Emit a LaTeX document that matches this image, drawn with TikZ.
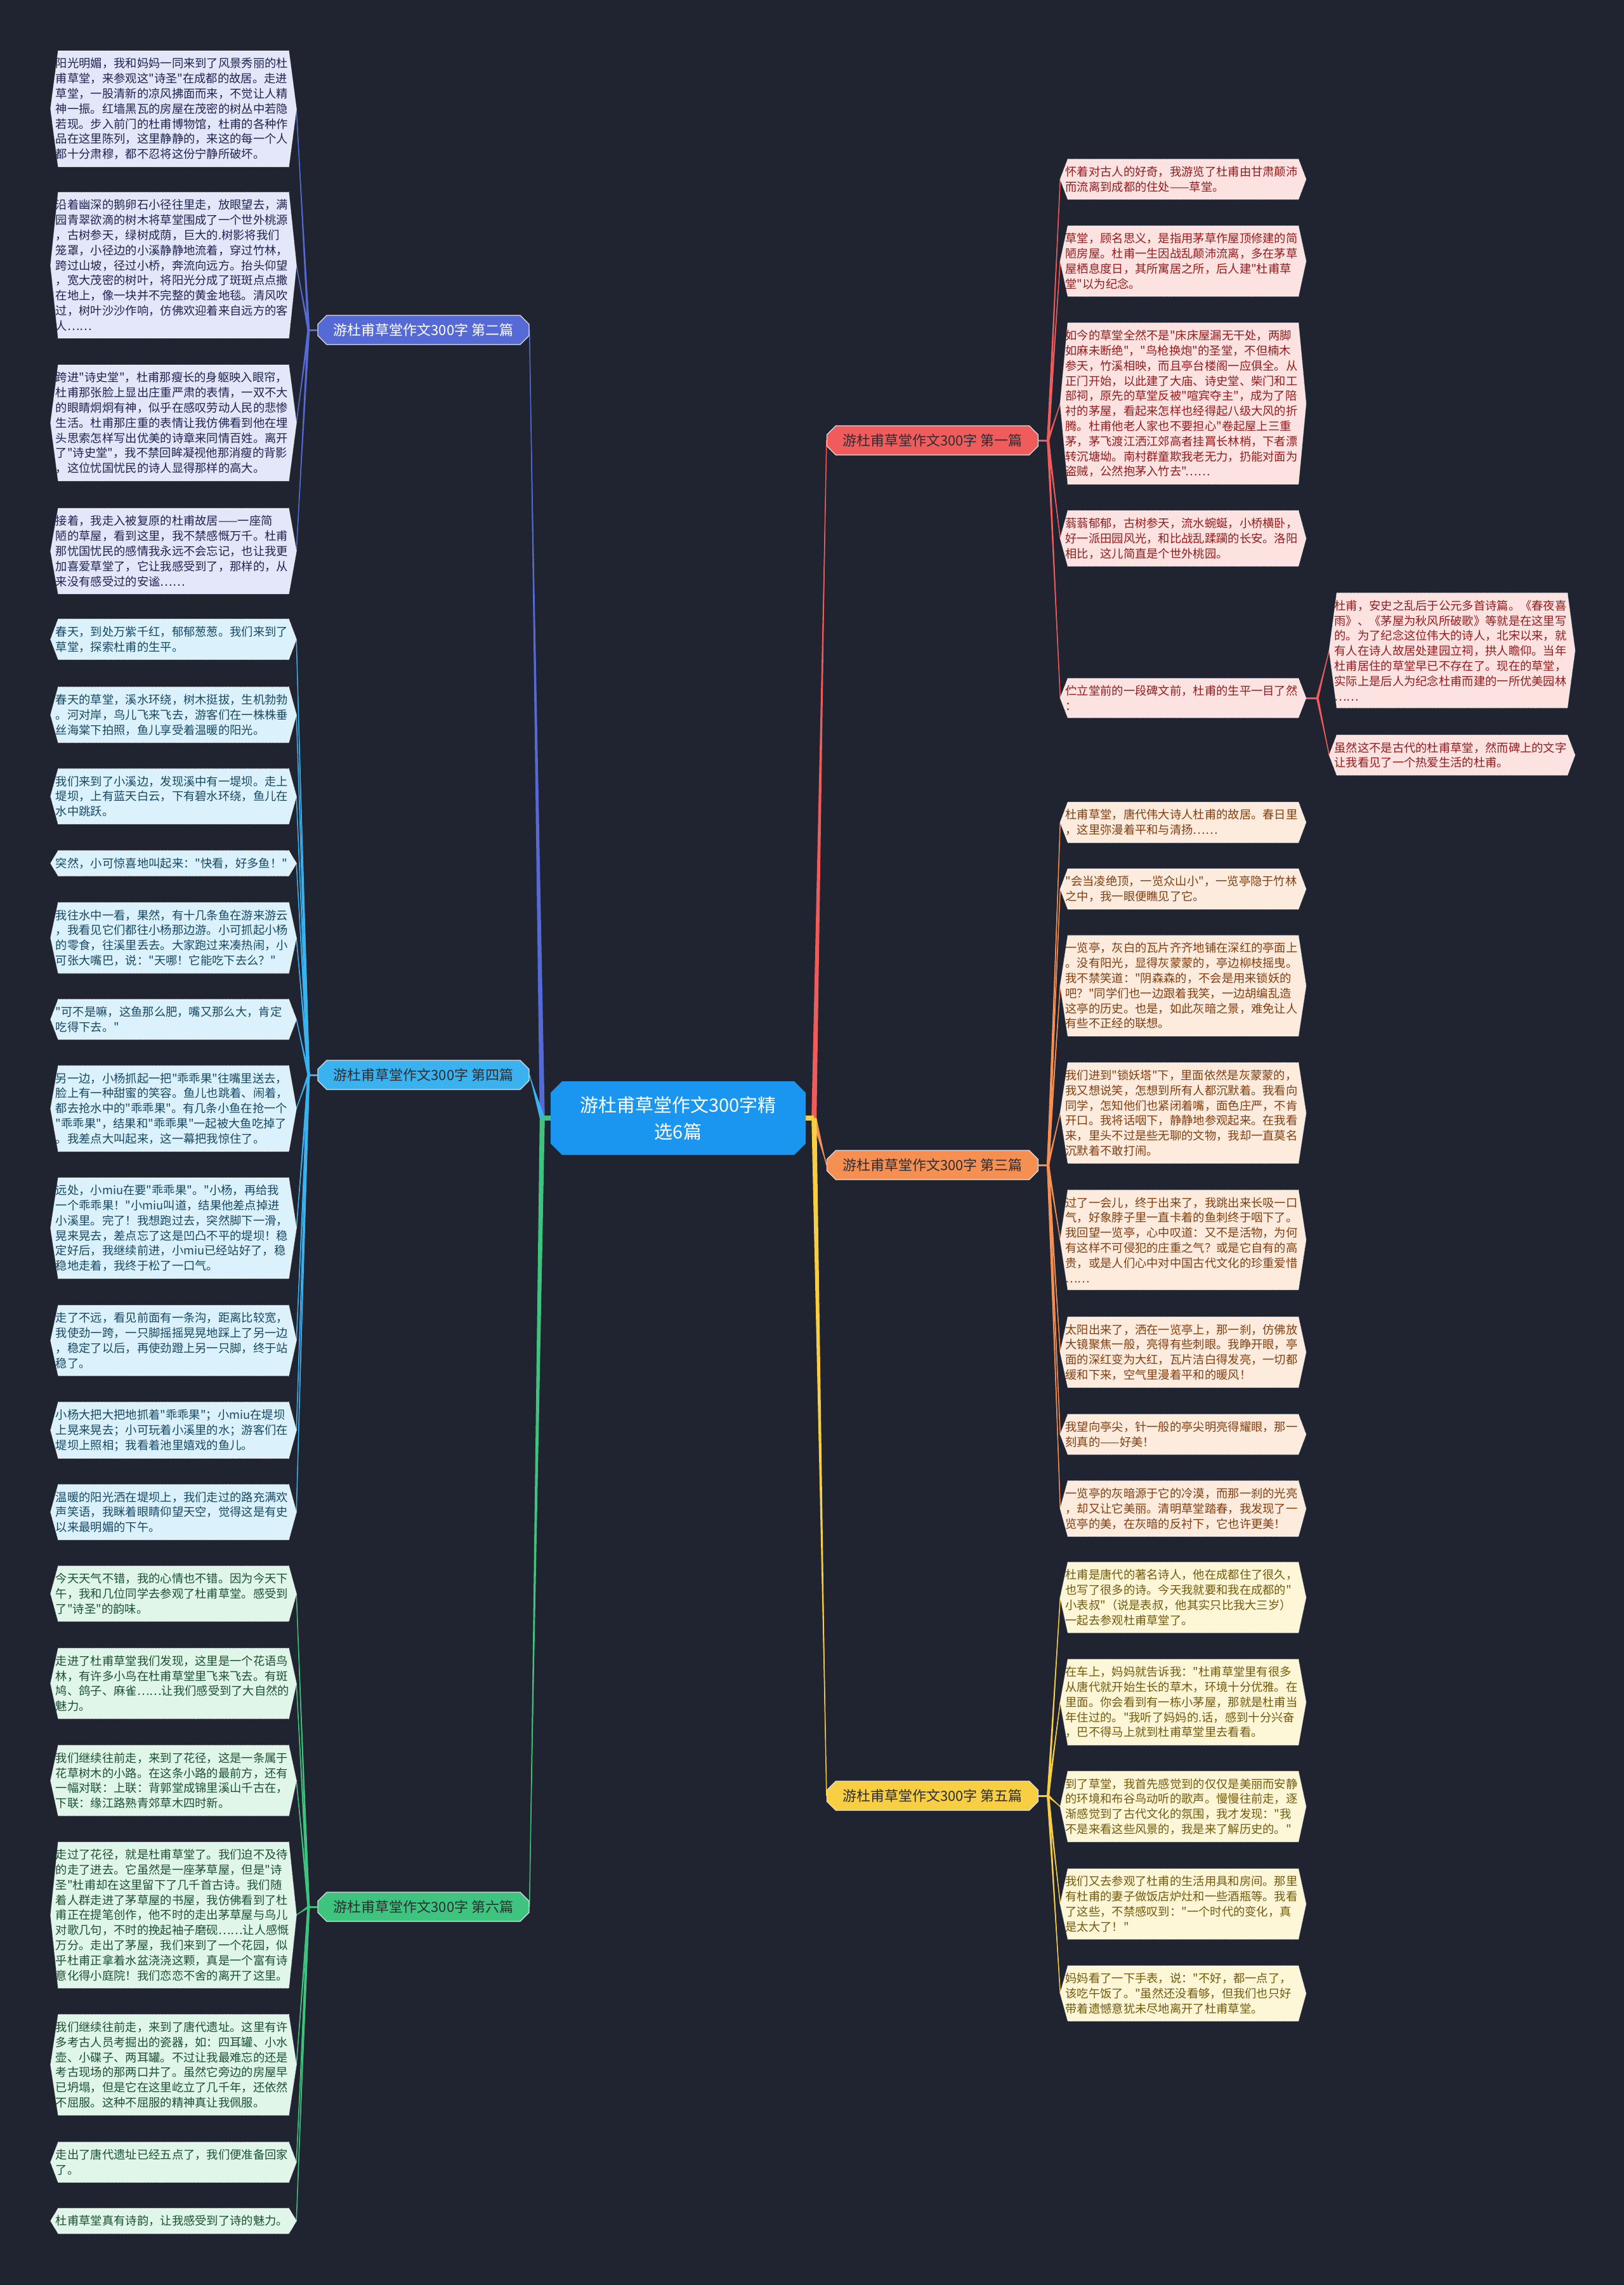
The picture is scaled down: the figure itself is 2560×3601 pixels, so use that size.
\documentclass[tikz,border=0pt]{standalone}
\usepackage{fontspec}
\setmainfont{Noto Sans CJK SC}[Ligatures=TeXOff]
\usetikzlibrary{calc,shapes.misc}
\pgfdeclarelayer{bg}\pgfdeclarelayer{mid}\pgfsetlayers{bg,mid,main}
\definecolor{bgc}{RGB}{32,36,48}
\definecolor{cC}{RGB}{26,150,240}
\definecolor{cB}{RGB}{86,106,214}\definecolor{cBf}{RGB}{228,231,250}\definecolor{cBt}{RGB}{30,36,80}
\definecolor{cL}{RGB}{58,178,240}\definecolor{cLf}{RGB}{219,242,253}\definecolor{cLt}{RGB}{22,72,100}
\definecolor{cG}{RGB}{62,196,126}\definecolor{cGf}{RGB}{223,246,233}\definecolor{cGt}{RGB}{28,80,52}
\definecolor{cR}{RGB}{240,92,92}\definecolor{cRf}{RGB}{253,226,226}\definecolor{cRt}{RGB}{150,28,28}
\definecolor{cO}{RGB}{246,144,82}\definecolor{cOf}{RGB}{253,236,222}\definecolor{cOt}{RGB}{130,62,16}
\definecolor{cY}{RGB}{248,206,66}\definecolor{cYf}{RGB}{253,247,216}\definecolor{cYt}{RGB}{115,90,12}
\definecolor{cDk}{RGB}{45,45,52}
\newcommand\hexbox[2]{%
  \filldraw[fill=#2, draw=white, densely dotted, line width=1.2bp]
  ($(#1.north west)+(12bp,0)$) -- ($(#1.north east)+(-12bp,0)$) -- (#1.east) --
  ($(#1.south east)+(-12bp,0)$) -- ($(#1.south west)+(12bp,0)$) -- (#1.west) -- cycle;}
\newcommand\taper[4]{%
  \fill[#1] ($(#2)!#4!90:(#3)$) -- (#3) -- ($(#2)!#4!-90:(#3)$) -- cycle;
  \draw[#1, line width=1.5bp] (#2) -- (#3);}
\begin{document}
\begin{tikzpicture}[x=1bp,y=-1bp,
  leaf/.style={text width=371bp, inner xsep=8bp, inner ysep=11bp, align=left,
    font=\fontsize{18.3bp}{23.8bp}\selectfont, anchor=center},
  branch/.style={chamfered rectangle, chamfered rectangle xsep=7bp, chamfered rectangle ysep=7bp,
    minimum width=333bp, minimum height=46bp, inner sep=0pt,
    font=\fontsize{22bp}{26bp}\selectfont, draw=white!88!black, line width=1.2bp, text=cDk},
  root/.style={chamfered rectangle, chamfered rectangle xsep=9bp, chamfered rectangle ysep=9bp,
    minimum width=402bp, minimum height=116bp, inner sep=0pt, fill=cC, text=white, align=center,
    font=\fontsize{29bp}{42bp}\selectfont}]
\useasboundingbox (0,0) rectangle (2560,3601);

% root
\node[root] (c) at (1069,1762) {游杜甫草堂作文300字精\\选6篇};

% branches
\node[branch, fill=cB, text=white] (b2) at (667.5,520) {游杜甫草堂作文300字 第二篇};
\node[branch, fill=cL] (b4) at (667.5,1694) {游杜甫草堂作文300字 第四篇};
\node[branch, fill=cG] (b6) at (667.5,3005) {游杜甫草堂作文300字 第六篇};
\node[branch, fill=cR] (b1) at (1470,694) {游杜甫草堂作文300字 第一篇};
\node[branch, fill=cO] (b3) at (1470,1836) {游杜甫草堂作文300字 第三篇};
\node[branch, fill=cY] (b5) at (1470,2830) {游杜甫草堂作文300字 第五篇};

% 第二篇 leaves
\node[leaf, text=cBt] (l2a) at (273.5,171.5) {阳光明媚，我和妈妈一同来到了风景秀丽的杜\\甫草堂，来参观这"诗圣"在成都的故居。走进\\草堂，一股清新的凉风拂面而来，不觉让人精\\神一振。红墙黑瓦的房屋在茂密的树丛中若隐\\若现。步入前门的杜甫博物馆，杜甫的各种作\\品在这里陈列，这里静静的，来这的每一个人\\都十分肃穆，都不忍将这份宁静所破坏。};
\node[leaf, text=cBt] (l2b) at (273.5,418) {沿着幽深的鹅卵石小径往里走，放眼望去，满\\园青翠欲滴的树木将草堂围成了一个世外桃源\\，古树参天，绿树成荫，巨大的.树影将我们\\笼罩，小径边的小溪静静地流着，穿过竹林，\\跨过山坡，径过小桥，奔流向远方。抬头仰望\\，宽大茂密的树叶，将阳光分成了斑斑点点撒\\在地上，像一块并不完整的黄金地毯。清风吹\\过，树叶沙沙作响，仿佛欢迎着来自远方的客\\人……};
\node[leaf, text=cBt] (l2c) at (273.5,666.5) {跨进"诗史堂"，杜甫那瘦长的身躯映入眼帘，\\杜甫那张脸上显出庄重严肃的表情，一双不大\\的眼睛炯炯有神，似乎在感叹劳动人民的悲惨\\生活。杜甫那庄重的表情让我仿佛看到他在埋\\头思索怎样写出优美的诗章来同情百姓。离开\\了"诗史堂"，我不禁回眸凝视他那消瘦的背影\\，这位忧国忧民的诗人显得那样的高大。};
\node[leaf, text=cBt] (l2d) at (273.5,868.5) {接着，我走入被复原的杜甫故居——一座简\\陋的草屋，看到这里，我不禁感慨万千。杜甫\\那忧国忧民的感情我永远不会忘记，也让我更\\加喜爱草堂了，它让我感受到了，那样的，从\\来没有感受过的安谧……};

% 第四篇 leaves
\node[leaf, text=cLt] (l4a) at (273.5,1007.5) {春天，到处万紫千红，郁郁葱葱。我们来到了\\草堂，探索杜甫的生平。};
\node[leaf, text=cLt] (l4b) at (273.5,1126.5) {春天的草堂，溪水环绕，树木挺拔，生机勃勃\\。河对岸，鸟儿飞来飞去，游客们在一株株垂\\丝海棠下拍照，鱼儿享受着温暖的阳光。};
\node[leaf, text=cLt] (l4c) at (273.5,1255) {我们来到了小溪边，发现溪中有一堤坝。走上\\堤坝，上有蓝天白云，下有碧水环绕，鱼儿在\\水中跳跃。};
\node[leaf, text=cLt] (l4d) at (273.5,1360.5) {突然，小可惊喜地叫起来："快看，好多鱼！"};
\node[leaf, text=cLt] (l4e) at (273.5,1478) {我往水中一看，果然，有十几条鱼在游来游云\\，我看见它们都往小杨那边游。小可抓起小杨\\的零食，往溪里丢去。大家跑过来凑热闹，小\\可张大嘴巴，说："天哪！它能吃下去么？"};
\node[leaf, text=cLt] (l4f) at (273.5,1606.5) {"可不是嘛，这鱼那么肥，嘴又那么大，肯定\\吃得下去。"};
\node[leaf, text=cLt] (l4g) at (273.5,1747) {另一边，小杨抓起一把"乖乖果"往嘴里送去，\\脸上有一种甜蜜的笑容。鱼儿也跳着、闹着，\\都去抢水中的"乖乖果"。有几条小鱼在抢一个\\"乖乖果"，结果和"乖乖果"一起被大鱼吃掉了\\。我差点大叫起来，这一幕把我惊住了。};
\node[leaf, text=cLt] (l4h) at (273.5,1935.5) {远处，小miu在要"乖乖果"。"小杨，再给我\\一个乖乖果！"小miu叫道，结果他差点掉进\\小溪里。完了！我想跑过去，突然脚下一滑，\\晃来晃去，差点忘了这是凹凸不平的堤坝！稳\\定好后，我继续前进，小miu已经站好了，稳\\稳地走着，我终于松了一口气。};
\node[leaf, text=cLt] (l4i) at (273.5,2112.5) {走了不远，看见前面有一条沟，距离比较宽，\\我使劲一跨，一只脚摇摇晃晃地踩上了另一边\\，稳定了以后，再使劲蹬上另一只脚，终于站\\稳了。};
\node[leaf, text=cLt] (l4j) at (273.5,2254) {小杨大把大把地抓着"乖乖果"；小miu在堤坝\\上晃来晃去；小可玩着小溪里的水；游客们在\\堤坝上照相；我看着池里嬉戏的鱼儿。};
\node[leaf, text=cLt] (l4k) at (273.5,2383) {温暖的阳光洒在堤坝上，我们走过的路充满欢\\声笑语，我眯着眼睛仰望天空，觉得这是有史\\以来最明媚的下午。};

% 第六篇 leaves
\node[leaf, text=cGt] (l6a) at (273.5,2511.5) {今天天气不错，我的心情也不错。因为今天下\\午，我和几位同学去参观了杜甫草堂。感受到\\了"诗圣"的韵味。};
\node[leaf, text=cGt] (l6b) at (273.5,2653) {走进了杜甫草堂我们发现，这里是一个花语鸟\\林，有许多小鸟在杜甫草堂里飞来飞去。有斑\\鸠、鸽子、麻雀……让我们感受到了大自然的\\魅力。};
\node[leaf, text=cGt] (l6c) at (273.5,2806) {我们继续往前走，来到了花径，这是一条属于\\花草树木的小路。在这条小路的最前方，还有\\一幅对联：上联：背郭堂成锦里溪山千古在，\\下联：缘江路熟青郊草木四时新。};
\node[leaf, text=cGt] (l6d) at (273.5,3018) {走过了花径，就是杜甫草堂了。我们迫不及待\\的走了进去。它虽然是一座茅草屋，但是"诗\\圣"杜甫却在这里留下了几千首古诗。我们随\\着人群走进了茅草屋的书屋，我仿佛看到了杜\\甫正在提笔创作，他不时的走出茅草屋与鸟儿\\对歌几句，不时的挽起袖子磨砚……让人感慨\\万分。走出了茅屋，我们来到了一个花园，似\\乎杜甫正拿着水盆浇浇这颗，真是一个富有诗\\意化得小庭院！我们恋恋不舍的离开了这里。};
\node[leaf, text=cGt] (l6e) at (273.5,3254) {我们继续往前走，来到了唐代遗址。这里有许\\多考古人员考掘出的瓷器，如：四耳罐、小水\\壶、小碟子、两耳罐。不过让我最难忘的还是\\考古现场的那两口井了。虽然它旁边的房屋早\\已坍塌，但是它在这里屹立了几千年，还依然\\不屈服。这种不屈服的精神真让我佩服。};
\node[leaf, text=cGt] (l6f) at (273.5,3407.5) {走出了唐代遗址已经五点了，我们便准备回家\\了。};
\node[leaf, text=cGt] (l6g) at (273.5,3500) {杜甫草堂真有诗韵，让我感受到了诗的魅力。};

% 第一篇 leaves
\node[leaf, text=cRt] (r1a) at (1865,282.5) {怀着对古人的好奇，我游览了杜甫由甘肃颠沛\\而流离到成都的住处——草堂。};
\node[leaf, text=cRt] (r1b) at (1865,411.5) {草堂，顾名思义，是指用茅草作屋顶修建的简\\陋房屋。杜甫一生因战乱颠沛流离，多在茅草\\屋栖息度日，其所寓居之所，后人建"杜甫草\\堂"以为纪念。};
\node[leaf, text=cRt] (r1c) at (1865,636) {如今的草堂全然不是"床床屋漏无干处，两脚\\如麻未断绝"，"鸟枪换炮"的圣堂，不但楠木\\参天，竹溪相映，而且亭台楼阁一应俱全。从\\正门开始，以此建了大庙、诗史堂、柴门和工\\部祠，原先的草堂反被"喧宾夺主"，成为了陪\\衬的茅屋，看起来怎样也经得起八级大风的折\\腾。杜甫他老人家也不要担心"卷起屋上三重\\茅，茅飞渡江洒江郊高者挂罥长林梢，下者漂\\转沉塘坳。南村群童欺我老无力，扔能对面为\\盗贼，公然抱茅入竹去"……};
\node[leaf, text=cRt] (r1d) at (1865,848.5) {蓊蓊郁郁，古树参天，流水蜿蜒，小桥横卧，\\好一派田园风光，和比战乱蹂躏的长安。洛阳\\相比，这儿简直是个世外桃园。};
\node[leaf, text=cRt] (r1e) at (1865,1100) {伫立堂前的一段碑文前，杜甫的生平一目了然\\：};
\node[leaf, text=cRt] (r1ea) at (2289,1025) {杜甫，安史之乱后于公元多首诗篇。《春夜喜\\雨》、《茅屋为秋风所破歌》等就是在这里写\\的。为了纪念这位伟大的诗人，北宋以来，就\\有人在诗人故居处建园立祠，拱人瞻仰。当年\\杜甫居住的草堂早已不存在了。现在的草堂，\\实际上是后人为纪念杜甫而建的一所优美园林\\……};
\node[leaf, text=cRt] (r1eb) at (2289,1190) {虽然这不是古代的杜甫草堂，然而碑上的文字\\让我看见了一个热爱生活的杜甫。};

% 第三篇 leaves
\node[leaf, text=cOt] (r3a) at (1865,1296) {杜甫草堂，唐代伟大诗人杜甫的故居。春日里\\，这里弥漫着平和与清扬……};
\node[leaf, text=cOt] (r3b) at (1865,1401) {"会当凌绝顶，一览众山小"，一览亭隐于竹林\\之中，我一眼便瞧见了它。};
\node[leaf, text=cOt] (r3c) at (1865,1553.5) {一览亭，灰白的瓦片齐齐地铺在深红的亭面上\\。没有阳光，显得灰蒙蒙的，亭边柳枝摇曳。\\我不禁笑道："阴森森的，不会是用来锁妖的\\吧？"同学们也一边跟着我笑，一边胡编乱造\\这亭的历史。也是，如此灰暗之景，难免让人\\有些不正经的联想。};
\node[leaf, text=cOt] (r3d) at (1865,1754) {我们进到"锁妖塔"下，里面依然是灰蒙蒙的，\\我又想说笑，怎想到所有人都沉默着。我看向\\同学，怎知他们也紧闭着嘴，面色庄严，不肯\\开口。我将话咽下，静静地参观起来。在我看\\来，里头不过是些无聊的文物，我却一直莫名\\沉默着不敢打闹。};
\node[leaf, text=cOt] (r3e) at (1865,1954) {过了一会儿，终于出来了，我跳出来长吸一口\\气，好象脖子里一直卡着的鱼刺终于咽下了。\\我回望一览亭，心中叹道：又不是活物，为何\\有这样不可侵犯的庄重之气？或是它自有的高\\贵，或是人们心中对中国古代文化的珍重爱惜\\……};
\node[leaf, text=cOt] (r3f) at (1865,2131) {太阳出来了，洒在一览亭上，那一刹，仿佛放\\大镜聚焦一般，亮得有些刺眼。我睁开眼，亭\\面的深红变为大红，瓦片洁白得发亮，一切都\\缓和下来，空气里漫着平和的暖风！};
\node[leaf, text=cOt] (r3g) at (1865,2260.5) {我望向亭尖，针一般的亭尖明亮得耀眼，那一\\刻真的——好美！};
\node[leaf, text=cOt] (r3h) at (1865,2377.5) {一览亭的灰暗源于它的冷漠，而那一刹的光亮\\，却又让它美丽。清明草堂踏春，我发现了一\\览亭的美，在灰暗的反衬下，它也许更美！};

% 第五篇 leaves
\node[leaf, text=cYt] (r5a) at (1865,2517.5) {杜甫是唐代的著名诗人，他在成都住了很久，\\也写了很多的诗。今天我就要和我在成都的"\\小表叔"（说是表叔，他其实只比我大三岁）\\一起去参观杜甫草堂了。};
\node[leaf, text=cYt] (r5b) at (1865,2682.5) {在车上，妈妈就告诉我："杜甫草堂里有很多\\从唐代就开始生长的草木，环境十分优雅。在\\里面。你会看到有一栋小茅屋，那就是杜甫当\\年住过的。"我听了妈妈的.话，感到十分兴奋\\，巴不得马上就到杜甫草堂里去看看。};
\node[leaf, text=cYt] (r5c) at (1865,2847) {到了草堂，我首先感觉到的仅仅是美丽而安静\\的环境和布谷鸟动听的歌声。慢慢往前走，逐\\渐感觉到了古代文化的氛围，我才发现："我\\不是来看这些风景的，我是来了解历史的。"};
\node[leaf, text=cYt] (r5d) at (1865,3000.5) {我们又去参观了杜甫的生活用具和房间。那里\\有杜甫的妻子做饭店炉灶和一些酒瓶等。我看\\了这些，不禁感叹到："一个时代的变化，真\\是太大了！"};
\node[leaf, text=cYt] (r5e) at (1865,3141.5) {妈妈看了一下手表，说："不好，都一点了，\\该吃午饭了。"虽然还没看够，但我们也只好\\带着遗憾意犹未尽地离开了杜甫草堂。};

% junctions
\coordinate (jl) at ($(c.west)+(-13bp,0)$);
\coordinate (jr) at ($(c.east)+(13bp,0)$);
\coordinate (j2) at ($(b2.west)+(-14bp,0)$);
\coordinate (j4) at ($(b4.west)+(-14bp,0)$);
\coordinate (j6) at ($(b6.west)+(-14bp,0)$);
\coordinate (j1) at ($(b1.east)+(15bp,0)$);
\coordinate (j3) at ($(b3.east)+(15bp,0)$);
\coordinate (j5) at ($(b5.east)+(15bp,0)$);
\coordinate (j1e) at ($(r1e.east)+(18bp,0)$);

\begin{pgfonlayer}{mid}
\foreach \n in {l2a,l2b,l2c,l2d}{\hexbox{\n}{cBf}}
\foreach \n in {l4a,l4b,l4c,l4d,l4e,l4f,l4g,l4h,l4i,l4j,l4k}{\hexbox{\n}{cLf}}
\foreach \n in {l6a,l6b,l6c,l6d,l6e,l6f,l6g}{\hexbox{\n}{cGf}}
\foreach \n in {r1a,r1b,r1c,r1d,r1e,r1ea,r1eb}{\hexbox{\n}{cRf}}
\foreach \n in {r3a,r3b,r3c,r3d,r3e,r3f,r3g,r3h}{\hexbox{\n}{cOf}}
\foreach \n in {r5a,r5b,r5c,r5d,r5e}{\hexbox{\n}{cYf}}
\end{pgfonlayer}

\begin{pgfonlayer}{bg}
\fill[bgc] (0,0) rectangle (2560,3601);
% root to branches
\taper{cB}{jl}{b2.east}{4bp}
\taper{cL}{jl}{b4.east}{4bp}
\taper{cG}{jl}{b6.east}{4bp}
\draw[cG, line width=8bp] (c.west) -- (jl);
\taper{cR}{jr}{b1.west}{4bp}
\taper{cO}{jr}{b3.west}{4bp}
\taper{cY}{jr}{b5.west}{4bp}
\draw[cY, line width=8bp] (c.east) -- (jr);
% branch stubs
\draw[cB, line width=3bp] (b2.west) -- (j2);
\draw[cL, line width=3bp] (b4.west) -- (j4);
\draw[cG, line width=3bp] (b6.west) -- (j6);
\draw[cR, line width=3bp] (b1.east) -- (j1);
\draw[cO, line width=3bp] (b3.east) -- (j3);
\draw[cY, line width=3bp] (b5.east) -- (j5);
\draw[cR, line width=3bp] (r1e.east) -- (j1e);
% leaves
\foreach \n in {l2a,l2b,l2c,l2d}{\taper{cB}{j2}{\n.east}{2bp}}
\foreach \n in {l4a,l4b,l4c,l4d,l4e,l4f,l4g,l4h,l4i,l4j,l4k}{\taper{cL}{j4}{\n.east}{2bp}}
\foreach \n in {l6a,l6b,l6c,l6d,l6e,l6f,l6g}{\taper{cG}{j6}{\n.east}{2bp}}
\foreach \n in {r1a,r1b,r1c,r1d,r1e}{\taper{cR}{j1}{\n.west}{2bp}}
\foreach \n in {r1ea,r1eb}{\taper{cR}{j1e}{\n.west}{2bp}}
\foreach \n in {r3a,r3b,r3c,r3d,r3e,r3f,r3g,r3h}{\taper{cO}{j3}{\n.west}{2bp}}
\foreach \n in {r5a,r5b,r5c,r5d,r5e}{\taper{cY}{j5}{\n.west}{2bp}}
\end{pgfonlayer}
\end{tikzpicture}
\end{document}
